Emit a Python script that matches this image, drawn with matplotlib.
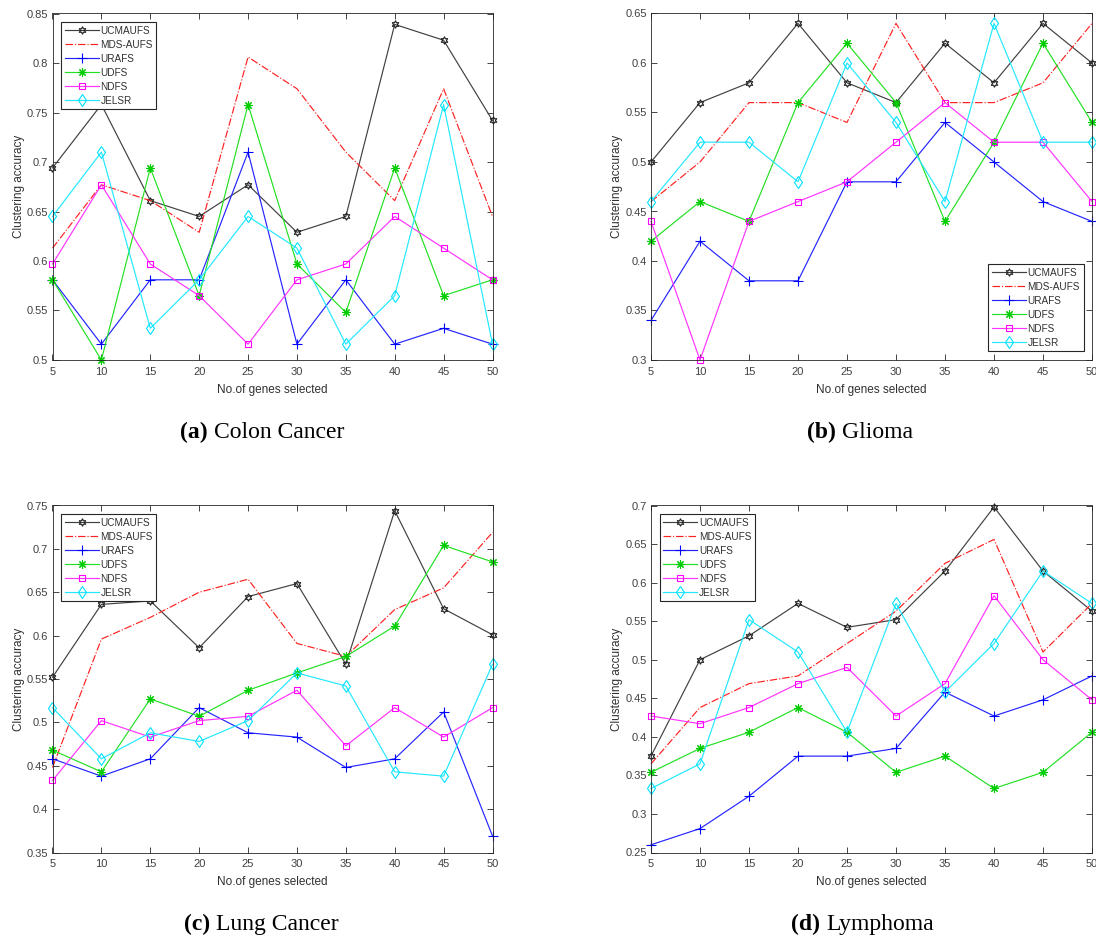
import matplotlib
matplotlib.use("Agg")
import matplotlib.pyplot as plt
from matplotlib.ticker import FuncFormatter

genes = [5, 10, 15, 20, 25, 30, 35, 40, 45, 50]
methods = ["UCMAUFS", "MDS-AUFS", "URAFS", "UDFS", "NDFS", "JELSR"]

# (a) Colon Cancer
colon_ucmaufs = [0.694, 0.758, 0.661, 0.645, 0.677, 0.629, 0.645, 0.839, 0.823, 0.742]
colon_mdsaufs = [0.613, 0.677, 0.661, 0.629, 0.806, 0.774, 0.710, 0.661, 0.774, 0.645]
colon_urafs   = [0.581, 0.516, 0.581, 0.581, 0.710, 0.516, 0.581, 0.516, 0.532, 0.516]
colon_udfs    = [0.581, 0.500, 0.694, 0.565, 0.758, 0.597, 0.548, 0.694, 0.565, 0.581]
colon_ndfs    = [0.597, 0.677, 0.597, 0.565, 0.516, 0.581, 0.597, 0.645, 0.613, 0.581]
colon_jelsr   = [0.645, 0.710, 0.532, 0.581, 0.645, 0.613, 0.516, 0.565, 0.758, 0.516]

# (b) Glioma
glioma_ucmaufs = [0.50, 0.56, 0.58, 0.64, 0.58, 0.56, 0.62, 0.58, 0.64, 0.60]
glioma_mdsaufs = [0.46, 0.50, 0.56, 0.56, 0.54, 0.64, 0.56, 0.56, 0.58, 0.64]
glioma_urafs   = [0.34, 0.42, 0.38, 0.38, 0.48, 0.48, 0.54, 0.50, 0.46, 0.44]
glioma_udfs    = [0.42, 0.46, 0.44, 0.56, 0.62, 0.56, 0.44, 0.52, 0.62, 0.54]
glioma_ndfs    = [0.44, 0.30, 0.44, 0.46, 0.48, 0.52, 0.56, 0.52, 0.52, 0.46]
glioma_jelsr   = [0.46, 0.52, 0.52, 0.48, 0.60, 0.54, 0.46, 0.64, 0.52, 0.52]

# (c) Lung Cancer
lung_ucmaufs = [0.552, 0.636, 0.640, 0.586, 0.645, 0.660, 0.567, 0.744, 0.631, 0.601]
lung_mdsaufs = [0.448, 0.596, 0.621, 0.650, 0.665, 0.591, 0.576, 0.630, 0.655, 0.719]
lung_urafs   = [0.458, 0.438, 0.458, 0.517, 0.488, 0.483, 0.448, 0.458, 0.512, 0.369]
lung_udfs    = [0.468, 0.443, 0.527, 0.507, 0.537, 0.557, 0.576, 0.611, 0.704, 0.685]
lung_ndfs    = [0.433, 0.502, 0.483, 0.502, 0.507, 0.537, 0.473, 0.517, 0.483, 0.517]
lung_jelsr   = [0.517, 0.458, 0.488, 0.478, 0.502, 0.557, 0.542, 0.443, 0.438, 0.567]

# (d) Lymphoma
lymph_ucmaufs = [0.375, 0.500, 0.531, 0.573, 0.542, 0.552, 0.615, 0.698, 0.615, 0.563]
lymph_mdsaufs = [0.365, 0.438, 0.469, 0.479, 0.521, 0.563, 0.625, 0.656, 0.510, 0.573]
lymph_urafs   = [0.260, 0.281, 0.323, 0.375, 0.375, 0.385, 0.458, 0.427, 0.448, 0.479]
lymph_udfs    = [0.354, 0.385, 0.406, 0.438, 0.406, 0.354, 0.375, 0.333, 0.354, 0.406]
lymph_ndfs    = [0.427, 0.417, 0.438, 0.469, 0.490, 0.427, 0.469, 0.583, 0.500, 0.448]
lymph_jelsr   = [0.333, 0.365, 0.552, 0.510, 0.406, 0.573, 0.458, 0.521, 0.615, 0.573]

caption_tags = ["(a)", "(b)", "(c)", "(d)"]
caption_names = ["Colon Cancer", "Glioma", "Lung Cancer", "Lymphoma"]
ylims = [(0.5, 0.85), (0.3, 0.65), (0.35, 0.75), (0.25, 0.7)]

panels = [
    [colon_ucmaufs, colon_mdsaufs, colon_urafs, colon_udfs, colon_ndfs, colon_jelsr],
    [glioma_ucmaufs, glioma_mdsaufs, glioma_urafs, glioma_udfs, glioma_ndfs, glioma_jelsr],
    [lung_ucmaufs, lung_mdsaufs, lung_urafs, lung_udfs, lung_ndfs, lung_jelsr],
    [lymph_ucmaufs, lymph_mdsaufs, lymph_urafs, lymph_udfs, lymph_ndfs, lymph_jelsr],
]

styles = [
    dict(color="#404040", marker=(6, 1, 0), ls="-", mec="#202020", ms=5.5),
    dict(color="#ff2020", marker=None, ls="-.", ms=0),
    dict(color="#2424ff", marker="+", ls="-", mec="#0000ff", ms=7),
    dict(color="#22e022", marker=(8, 2, 0), ls="-", mec="#00cc00", ms=6),
    dict(color="#ff33ff", marker="s", ls="-", mec="#ff00ff", ms=5),
    dict(color="#22e8ff", marker="d", ls="-", mec="#00e0ff", ms=6),
]

plt.rcParams["font.family"] = ["Liberation Sans", "DejaVu Sans"]

W, H = 1096, 938
fig = plt.figure(figsize=(W / 100, H / 100), dpi=100)

# axes rectangles in pixels: left, top, right, bottom
rects = [(52.5, 13.5, 492.5, 360), (651, 13.5, 1092, 360),
         (52.5, 505.5, 492.5, 852.5), (651, 505.5, 1092, 852.5)]
legend_locs = ["upper left", "lower right", "upper left", "upper left"]
caption_pos = [(180, 438), (807, 438), (184, 930), (791, 930)]

tc = "#262626"
for i, (l, t, r, b) in enumerate(rects):
    ax = fig.add_axes([l / W, 1 - b / H, (r - l) / W, (b - t) / H])
    for series, name, st in zip(panels[i], methods, styles):
        ax.plot(genes, series, label=name, color=st["color"], ls=st["ls"],
                lw=0.85, marker=st["marker"], ms=st["ms"],
                mfc="none", mec=st.get("mec", st["color"]), mew=0.8,
                clip_on=False)
    ax.set_xlim(5, 50)
    ax.set_ylim(*ylims[i])
    ax.set_xticks(genes)
    lo, hi = ylims[i]
    n = int(round((hi - lo) / 0.05))
    ax.set_yticks([lo + 0.05 * k for k in range(n + 1)])
    ax.yaxis.set_major_formatter(FuncFormatter(lambda v, p: ("%g" % round(v, 3))))
    ax.tick_params(direction="in", top=True, right=True, length=4, width=0.6,
                   labelsize=8, colors=tc, labelcolor="#404040", pad=3)
    ax.tick_params(axis="x", pad=5)
    for s in ax.spines.values():
        s.set_color(tc)
        s.set_linewidth(0.6)
    ax.set_ylabel("Clustering accuracy", fontsize=8.5, color="#303030", labelpad=1.5)
    ax.set_xlabel("No.of genes selected", fontsize=8.5, color="#303030", labelpad=5)
    leg = ax.legend(loc=legend_locs[i], fontsize=7.2, handlelength=3.4,
                    labelspacing=0.4, borderpad=0.35, handletextpad=0.2,
                    fancybox=False, framealpha=1, edgecolor=tc, numpoints=1,
                    borderaxespad=0.85)
    leg.get_frame().set_linewidth(0.8)
    for txt in leg.get_texts():
        txt.set_color("#303030")

renderer = fig.canvas.get_renderer()
for i in range(4):
    cx, cy = caption_pos[i]
    t1 = fig.text(cx / W, 1 - cy / H, caption_tags[i], fontsize=17,
                  family="Liberation Serif", weight="bold", ha="left", va="baseline")
    bb = t1.get_window_extent(renderer)
    space = 17 * 100 / 72 * 0.25
    fig.text((bb.x1 + space) / W, 1 - cy / H, caption_names[i], fontsize=17,
             family="Liberation Serif", ha="left", va="baseline")

fig.savefig("out.png", dpi=100)
